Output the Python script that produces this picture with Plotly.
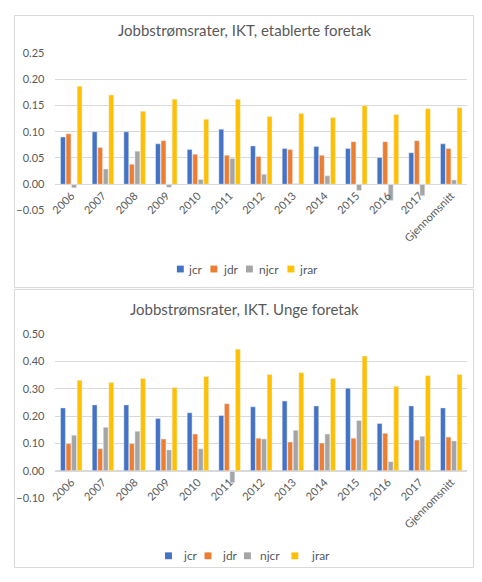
import plotly.graph_objects as go

# categories on the x axis
years = ['2006', '2007', '2008', '2009', '2010', '2011', '2012',
         '2013', '2014', '2015', '2016', '2017', 'Gjennomsnitt']

# established firms (top panel)
est_jcr = [0.090, 0.100, 0.100, 0.077, 0.066, 0.105, 0.073, 0.068, 0.072, 0.068, 0.051, 0.060, 0.077]
est_jdr = [0.096, 0.070, 0.038, 0.083, 0.057, 0.055, 0.053, 0.066, 0.055, 0.081, 0.081, 0.083, 0.068]
est_njcr = [-0.007, 0.029, 0.063, -0.006, 0.009, 0.049, 0.019, 0.001, 0.016, -0.012, -0.031, -0.022, 0.008]
est_jrar = [0.187, 0.170, 0.139, 0.162, 0.124, 0.162, 0.129, 0.135, 0.127, 0.150, 0.133, 0.144, 0.146]

# young firms (bottom panel)
young_jcr = [0.230, 0.241, 0.241, 0.191, 0.212, 0.202, 0.234, 0.255, 0.237, 0.302, 0.173, 0.237, 0.230]
young_jdr = [0.099, 0.080, 0.099, 0.116, 0.134, 0.245, 0.119, 0.105, 0.101, 0.119, 0.137, 0.112, 0.123]
young_njcr = [0.130, 0.159, 0.144, 0.076, 0.080, -0.044, 0.116, 0.148, 0.134, 0.184, 0.033, 0.126, 0.109]
young_jrar = [0.331, 0.323, 0.338, 0.305, 0.345, 0.445, 0.352, 0.359, 0.338, 0.420, 0.309, 0.348, 0.352]

series_names = ['jcr', 'jdr', 'njcr', 'jrar']
colors = ['#4472C4', '#ED7D31', '#A5A5A5', '#FFC000']

# the page keeps its 8px body margin, so the figure is the window minus 2*8
OFF = 8
W, H = 482 - 2 * OFF, 582 - 2 * OFF
FONT = 'Lato'
GREY = '#595959'
GRID = '#D9D9D9'


def px_x(px):
    # window pixel column -> paper fraction
    return (px - OFF) / W


def px_y(px):
    # window pixel row -> paper fraction
    return 1 - (px - OFF) / H


fig = go.Figure()

top_data = [est_jcr, est_jdr, est_njcr, est_jrar]
bottom_data = [young_jcr, young_jdr, young_njcr, young_jrar]

for name, vals, col in zip(series_names, top_data, colors):
    fig.add_trace(go.Bar(x=years, y=vals, name=name, marker_color=col,
                         xaxis='x', yaxis='y', showlegend=False))
for name, vals, col in zip(series_names, bottom_data, colors):
    fig.add_trace(go.Bar(x=years, y=vals, name=name, marker_color=col,
                         xaxis='x2', yaxis='y2', showlegend=False))

# plot areas
top_dom = [px_y(208), px_y(47)]
bot_dom = [px_y(502.3), px_y(334.7)]
top_rng = [-0.05, 0.25]
bot_rng = [-0.10, 0.50]


def zero_pos(dom, rng):
    # x axis crosses the y axis at 0
    return dom[0] + (0 - rng[0]) / (rng[1] - rng[0]) * (dom[1] - dom[0])


xdom = [px_x(50), px_x(467)]
axis_font = dict(family=FONT, size=11, color=GREY)

xaxis_style = dict(domain=xdom, anchor='free', tickangle=-45, tickfont=axis_font,
                   showgrid=False, showline=True, linecolor=GRID, ticks='')
yaxis_style = dict(tickformat='.2f', tickfont=axis_font, gridcolor=GRID,
                   zeroline=False, showline=False, ticklabelstandoff=10)

# panel frames (kept inside the figure)
shapes = [
    dict(type='rect', xref='paper', yref='paper', x0=0.5 / W, x1=1 - 0.5 / W,
         y0=px_y(287), y1=1 - 0.5 / H, line=dict(color=GRID, width=1)),
    dict(type='rect', xref='paper', yref='paper', x0=0.5 / W, x1=1 - 0.5 / W,
         y0=0.5 / H, y1=px_y(289), line=dict(color=GRID, width=1)),
]
annotations = [
    dict(text='Jobbstrømsrater, IKT, etablerte foretak', x=px_x(241), y=px_y(23),
         xref='paper', yref='paper', showarrow=False, yanchor='middle',
         font=dict(family=FONT, size=15, color=GREY)),
    dict(text='Jobbstrømsrater, IKT. Unge foretak', x=px_x(241), y=px_y(309),
         xref='paper', yref='paper', showarrow=False, yanchor='middle',
         font=dict(family=FONT, size=15, color=GREY)),
]

# hand made legends: little squares and labels
top_legend = [(173, 182), (207, 218), (243, 254), (285, 295)]
bot_legend = [(161, 177), (201, 217), (241, 255), (289, 307)]
for (sq_top, tx_top), (sq_bot, tx_bot), name, col in zip(top_legend, bot_legend, series_names, colors):
    for sq, tx, yc in [(sq_top, tx_top, 268), (sq_bot, tx_bot, 561.5)]:
        shapes.append(dict(type='rect', xref='paper', yref='paper',
                           x0=px_x(sq), x1=px_x(sq + 7), y0=px_y(yc + 3.5), y1=px_y(yc - 3.5),
                           fillcolor=col, line=dict(width=0)))
        annotations.append(dict(text=name, x=px_x(tx), y=px_y(yc), xref='paper', yref='paper',
                                xanchor='left', yanchor='middle', showarrow=False,
                                font=dict(family=FONT, size=12, color=GREY)))

fig.update_layout(
    width=W, height=H,
    margin=dict(l=0, r=0, t=0, b=0),
    plot_bgcolor='white', paper_bgcolor='white',
    font=dict(family=FONT, color=GREY),
    barmode='group', bargap=0.3, bargroupgap=0.12,
    xaxis=dict(xaxis_style, position=zero_pos(top_dom, top_rng)),
    yaxis=dict(yaxis_style, domain=top_dom, range=top_rng, dtick=0.05, anchor='x'),
    xaxis2=dict(xaxis_style, position=zero_pos(bot_dom, bot_rng)),
    yaxis2=dict(yaxis_style, domain=bot_dom, range=bot_rng, dtick=0.1, anchor='x2'),
    shapes=shapes,
    annotations=annotations,
)

fig.write_html('out.html', config={'displayModeBar': False})
